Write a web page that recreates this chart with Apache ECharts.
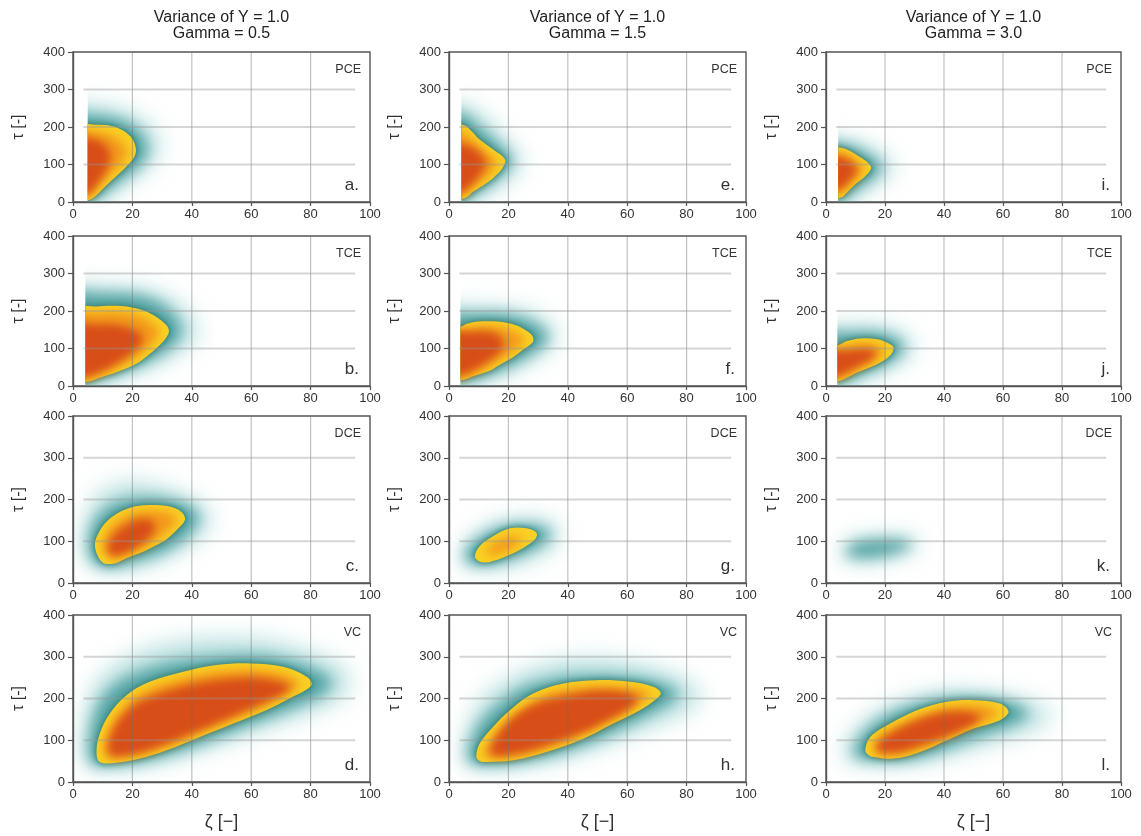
<!DOCTYPE html>
<html><head><meta charset="utf-8">
<script src="https://cdn.jsdelivr.net/npm/echarts/dist/echarts.min.js"></script>
<style>html,body{margin:0;padding:0;background:#fff}#c{width:1141px;height:836px}</style>
</head><body><div id="c"></div><script>
// ---------- text / categories ----------
const columnTitles = ['Variance of Y = 1.0\nGamma = 0.5', 'Variance of Y = 1.0\nGamma = 1.5', 'Variance of Y = 1.0\nGamma = 3.0'];
const rowCodes = ['PCE', 'TCE', 'DCE', 'VC'];
const panelLetters = ['a.', 'b.', 'c.', 'd.', 'e.', 'f.', 'g.', 'h.', 'i.', 'j.', 'k.', 'l.'];
const xName = 'ζ [−]';
const yName = 'τ [-]';
const xTicks = [0, 20, 40, 60, 80, 100];
const yTicks = [0, 100, 200, 300, 400];
const xGridLines = [20, 40, 60, 80];
const yGridLines = [100, 200, 300];
// left edge where the density is cut (x value), null = not cut
const cutEdges = [4.8, 4.0, null, null, 4.0, 3.7, null, null, 3.95, 3.7, null, null];

// ---------- density contours [ζ, τ] ----------
// a. PCE, gamma 0.5
const aHalo = [[-4,2],[-4,250],[10,256],[18,240],[24,214],[28,180],[29,140],[27,110],[23,80],[18,50],[13,20],[9,2]];
const aTeal = [[-4,4],[-4,228],[7,232],[13,226],[19,210],[23,183],[25,150],[24.5,120],[21.5,90],[16.5,60],[11.5,30],[8,8],[6,2]];
const aYellow = [[-4,5],[-4,204],[8,206],[13,203],[17,190],[20,168],[21.2,140],[20.5,118],[18,95],[14,65],[10,35],[7,12],[5,5]];
const aOrange = [[-4,12],[-4,188],[8,188],[12,182],[15,168],[17.5,150],[18.3,135],[17.5,115],[15,92],[11,62],[7.5,34],[5.5,16],[4.5,12]];
const aRed = [[-4,20],[-4,168],[6,170],[9.5,160],[12,142],[12.5,115],[11,82],[8.5,52],[6.5,30],[5,22]];
// b. TCE, gamma 0.5
const bHalo = [[-4,3],[-4,258],[12,264],[22,260],[30,244],[36,216],[40,180],[42,145],[40,115],[35,90],[29,62],[21,38],[13,18],[8,5]];
const bTeal = [[-4,8],[-4,240],[10,247],[18,246],[25,236],[31,213],[34.5,185],[36.5,150],[35.5,125],[32.5,100],[27.5,75],[21.5,52],[15,32],[8,15],[5,8]];
const bYellow = [[-4,10],[-4,205],[8,212],[13,214],[19,211],[24,201],[28,185],[31.5,162],[32.3,145],[31,125],[28.5,104],[25,80],[21,58],[15,38],[9,22],[5,12]];
const bOrange = [[-4,16],[-4,190],[8,197],[13,198],[19,195],[23,186],[26,171],[28.5,155],[29,143],[28,125],[25.5,105],[22,82],[18,62],[13,44],[8.5,29],[5,20]];
const bRed = [[-4,22],[-4,160],[8,165],[14,164],[18.5,157],[22,144],[23.5,128],[22.5,108],[19.5,86],[15.5,64],[11,44],[7,30],[4.5,24]];
// c. DCE, gamma 0.5
const cHalo = [[4,80],[5,50],[8.5,38],[16,33],[26,47],[35,76],[42,105],[45.5,140],[46,165],[42.5,192],[35,215],[25,238],[15,236],[8.5,210],[5,165],[4,120]];
const cTeal = [[5.2,85],[6.2,56],[9.2,41],[15,39],[22,53],[30,73],[36.5,100],[40.5,130],[42.5,155],[40.5,177],[35.5,194],[28,203],[20,201],[13,186],[8.2,158],[5.7,125]];
const cYellow = [[7.4,95],[8,70],[10.2,48],[14,47],[18.1,60],[23,73],[27,87],[31.5,105],[34.9,127],[37.7,151],[36.8,168],[34,180],[29.3,186],[24,186],[19.5,181],[14.7,166],[11,145],[8.6,120]];
const cOrange = [[10,95],[10.5,74],[12.5,60],[15,59],[18.5,70],[23,83],[27,97],[30,113],[33,131],[34.8,150],[34,162],[31.5,170],[28.3,173],[24,173],[20,168],[16.5,155],[13,137],[11,117]];
const cRed = [[12,72],[14,66],[17.5,71],[21,84],[24.5,101],[27,121],[27.5,142],[25.5,152],[22,152],[18.5,141],[14.5,121],[12.3,98]];
// d. VC, gamma 0.5
const dHalo = [[3.5,60],[4.5,42],[10,34],[22,40],[35,60],[50,94],[65,131],[79,165],[90,200],[93,240],[90,278],[80,310],[67,336],[52,345],[36,336],[22,310],[12.5,270],[6.5,218],[4,140]];
const dTeal = [[5.2,70],[6.2,45],[10,39],[18,43],[28,57],[40,83],[52,116],[64,149],[75.5,181],[84,210],[87,240],[83,264],[74.5,288],[62,302],[48,299],[34,287],[22,262],[13.3,228],[8.2,180],[5.7,120]];
const dYellow = [[7.9,72],[9,48],[14.6,46],[22.5,56],[31.5,76],[42.7,108],[54,140],[65,172],[74,204],[80.3,232],[78.7,252],[70.8,276],[59.6,284],[48.3,280],[37.1,264],[25.8,240],[18,208],[12.4,164],[9,116]];
const dOrange = [[10.3,72],[11.3,58],[15,56],[22,66],[31,86],[42,117],[53,149],[63.5,180],[71.5,210],[76.5,232],[75,244],[69,262],[59.5,269],[48.5,265],[37.8,250],[27,227],[19.8,198],[14.8,160],[11.5,116]];
const dRed = [[12.5,66],[15.5,62],[25.5,76],[42,122],[58.5,172],[70.5,210],[73,226],[69.5,240],[59,250],[43,238],[29,212],[19.5,178],[14,132],[12,92]];
// e. PCE, gamma 1.5
const eHalo = [[-4,2],[-4,258],[7,254],[11,232],[15.5,195],[21,150],[24,115],[23.5,90],[20,60],[15,35],[9.5,10],[7,2]];
const eTeal = [[-4,5],[-4,236],[5.5,233],[8,216],[12,188],[17,153],[21,118],[20.5,95],[17.5,70],[13.5,45],[9,22],[6,5]];
const eYellow = [[-4,8],[-4,206],[5,205],[7.1,193],[10.4,166],[14.9,140],[18.9,113],[17.8,88],[15,65],[12.7,51],[8.2,28],[5.4,11]];
const eOrange = [[-4,14],[-4,190],[4.8,188],[6.8,174],[9.6,152],[13,130],[16,110],[15.2,90],[12.8,68],[10.3,53],[6.8,34],[5,19]];
const eRed = [[-4,24],[-4,158],[5.8,152],[9,140],[11.6,120],[12.4,102],[11,80],[8.8,56],[6.3,37],[4.5,27]];
// f. TCE, gamma 1.5
const fHalo = [[-4,8],[-4,202],[10,209],[20,205],[27.5,194],[33,172],[36,140],[35.5,115],[31.5,88],[26,60],[19,35],[11.5,15],[6,8]];
const fTeal = [[-4,12],[-4,184],[8,193],[16,194],[23,186],[28.5,170],[32.5,145],[33,120],[29.5,95],[24.5,70],[18.5,45],[12,25],[6,12]];
const fYellow = [[-4,15],[-4,150],[4,158],[6,166],[10,172],[16,172],[21,166],[25,153],[28,135],[28.3,118],[25.5,100],[21.4,76],[17,56],[13.5,40],[8,26],[5,17]];
const fOrange = [[-4,22],[-4,140],[5,150],[10,158],[16,158],[19.8,152],[23,141],[25.2,128],[25.3,117],[23,102],[19.5,82],[15.5,62],[12,47],[7.5,33],[5,24]];
const fRed = [[-4,27],[-4,136],[8,145],[14.5,143],[18,125],[18.3,105],[16,83],[12,60],[7.8,40],[5,30]];
// g. DCE, gamma 1.5
const gHalo = [[4,56],[5.5,44],[11,38],[20,44],[28,60],[34,81],[36.5,108],[36.5,134],[32,149],[24,152],[15,142],[9.5,118],[5.5,90]];
const gTeal = [[5.3,60],[7.2,47],[11,43],[17,49],[23,63],[29.5,85],[33.5,105],[34,124],[29.5,137],[22,139],[15,127],[10.2,107],[6.3,85]];
const gYellow = [[8.7,64],[10,52],[12.6,49],[16,55],[19.3,64],[25,84],[28.9,104],[29.5,120],[26.1,131],[20.5,131],[14.8,112],[10.3,88]];
const gOrange = [[12.5,72],[15,68],[18,74],[21.5,84],[24,98],[24,108],[21.5,112],[17.5,104],[14,89]];
const gRed = [];
// h. VC, gamma 1.5
const hHalo = [[5,50],[6.5,40],[12,36],[24,40],[38,58],[52,89],[66,128],[78.5,164],[85,200],[83,228],[75,258],[62,284],[48,295],[34,284],[22.5,254],[12.5,208],[7.5,150],[5.5,100]];
const hTeal = [[6.2,55],[7.7,45],[12,41],[22,45],[34,63],[47,93],[59,131],[68.5,165],[75.5,195],[76.5,218],[71.5,237],[62,250],[48,254],[35,246],[24.2,223],[16.3,184],[10.3,140],[7.2,95]];
const hYellow = [[9.2,60],[10.5,50],[12.6,48],[21.6,52],[32.8,72],[44.1,100],[55.3,140],[64.3,172],[70,200],[71.3,214],[68.8,228],[61,240],[49.7,244],[38.5,236],[28.3,212],[20.5,172],[14.8,132],[10.3,92]];
const hOrange = [[11.5,62],[13.2,58],[21.5,61],[32.3,81],[43,110],[54,148],[62,178],[66.8,200],[67.8,211],[66,218],[60,226],[49.7,229],[39.5,222],[30.3,201],[23,165],[17.3,128],[13.2,92]];
const hRed = [[14.5,64],[22,67],[32.5,87],[44,116],[54,150],[61.5,181],[63.5,200],[60,213],[50,218],[40,207],[30,189],[22,157],[17,120],[14.2,83]];
// i. PCE, gamma 3.0
const iHalo = [[-4,3],[-4,162],[8,161],[12.5,153],[17,135],[21.5,112],[23,95],[20.5,70],[16,45],[11.5,22],[8,4]];
const iTeal = [[-4,5],[-4,156],[6,155],[10,146],[14,129],[17.5,110],[19,95],[17.5,75],[13.5,50],[9.5,28],[7,8]];
const iYellow = [[-4,8],[-4,148],[5,145],[8,137],[11.5,120],[14.5,103],[15.3,90],[13.5,70],[10,48],[7,25],[5,12]];
const iOrange = [[-4,16],[-4,134],[5,131],[7.8,122],[10.5,108],[12.5,95],[12.8,87],[11.3,70],[8.5,51],[6,32],[4.5,20]];
const iRed = [[-4,30],[-4,124],[5.3,120],[8.3,108],[10.2,94],[9.8,75],[7.5,53],[5.3,37]];
// j. TCE, gamma 3.0
const jHalo = [[-4,5],[-4,148],[8,160],[17,160],[23.5,150],[28,128],[29.5,105],[28,78],[22,50],[14.5,25],[8,8]];
const jTeal = [[-4,8],[-4,132],[8,143],[15,144],[20.5,137],[25,121],[26.5,102],[24.5,80],[19.5,55],[12.5,32],[7,12]];
const jYellow = [[-4,12],[-4,100],[4,108],[7.1,120],[11.6,127],[17.3,125],[21,115],[22.9,103],[21.8,82],[17.3,58],[10.5,36],[6,18],[4,13]];
const jOrange = [[-4,20],[-4,92],[5,100],[8,108],[12,112],[16,111],[18.7,104],[19.8,97],[19,84],[15.5,65],[10,44],[6,26],[4,21]];
const jRed = [[-4,24],[-4,88],[8,96],[13.5,99],[16.8,91],[16,74],[11.5,55],[6,32],[4,26]];
// k. DCE, gamma 3.0
const kHalo = [[5,66],[7.5,56],[13,53],[20,58],[27.5,73],[31.5,90],[30.5,105],[24,111],[14,109],[7.5,99],[5,82]];
const kTeal = [[7,68],[12,60],[19,64],[25,76],[29,90],[27,101],[18,104],[11,98],[7.5,84]];
const kYellow = [];
const kOrange = [];
const kRed = [];
// l. VC, gamma 3.0
const lHalo = [[5.5,65],[8.5,52],[16,46],[28,47],[40,62],[52,86],[63.5,111],[73,136],[76.5,162],[72.5,184],[63.5,202],[50,217],[38,213],[26.5,195],[16.5,163],[9.5,120]];
const lTeal = [[9.3,65],[11.3,56],[17,51],[26,51],[36,67],[46,93],[56,119],[64.5,141],[68.5,162],[65.5,184],[58,198],[48,203],[37,198],[26.3,177],[17.3,145],[11.3,105]];
const lYellow = [[13.3,76],[14.5,64],[16.1,60],[22.9,56],[31.9,72],[41,100],[50,128],[59,148],[61.9,168],[59,188],[50,196],[41,192],[30.8,172],[21.8,140],[15,108]];
const lOrange = [[15.8,77],[17.2,68],[23,66],[31.5,81],[40,107],[48.5,133],[56,151],[58.3,166],[56,178],[50,184],[42,180],[32.8,161],[24,134],[17.6,106]];
const lRed = [[17.5,74],[24,71],[31.5,86],[41.5,111],[49,135],[52.5,154],[49,166],[42,168],[34.5,157],[26.5,134],[20.5,110],[17.5,90]];

const panelContours = [
  [aHalo,aTeal,aYellow,aOrange,aRed],[bHalo,bTeal,bYellow,bOrange,bRed],[cHalo,cTeal,cYellow,cOrange,cRed],[dHalo,dTeal,dYellow,dOrange,dRed],
  [eHalo,eTeal,eYellow,eOrange,eRed],[fHalo,fTeal,fYellow,fOrange,fRed],[gHalo,gTeal,gYellow,gOrange,gRed],[hHalo,hTeal,hYellow,hOrange,hRed],
  [iHalo,iTeal,iYellow,iOrange,iRed],[jHalo,jTeal,jYellow,jOrange,jRed],[kHalo,kTeal,kYellow,kOrange,kRed],[lHalo,lTeal,lYellow,lOrange,lRed]
];

// ---------- layout / style ----------
const colLeft = [73, 449, 826], colWidth = [297, 297, 295];
const rowTop = [52, 236, 416, 615], rowHeight = [150, 150, 167, 167];
const FONT = 'Liberation Sans, Arial, Helvetica, sans-serif';
const OFF = 4000; // draw shape off-canvas, keep only its blurred shadow

// layer styles: halo, teal, yellow, orange, red
const layerStyles = [
  {color: 'rgba(130,198,198,0.55)', blur: 22, soft: true},
  {color: 'rgba(56,148,148,0.78)', blur: 14, soft: true},
  {color: '#f9d024', blur: 6, shadow: '#187272', soft: false},
  {color: '#f39a1c', blur: 10, soft: true},
  {color: '#d84e18', blur: 9, soft: true}
];

function makeRender(idx) {
  return function (params, api) {
    const blobs = [];
    panelContours[idx].forEach(function (pts, li) {
      if (!pts || !pts.length) return;
      const s = layerStyles[li];
      if (s.soft) {
        blobs.push({
          type: 'polygon', z2: li + 1,
          shape: {points: pts.map(function (p) { const q = api.coord(p); return [q[0] + OFF, q[1]]; }), smooth: 0.35},
          style: {fill: '#000', shadowBlur: s.blur, shadowColor: s.color, shadowOffsetX: -OFF, shadowOffsetY: 0}
        });
      } else {
        blobs.push({
          type: 'polygon', z2: li + 1,
          shape: {points: pts.map(function (p) { return api.coord(p); }), smooth: 0.35},
          style: {fill: s.color, shadowBlur: s.blur, shadowColor: s.shadow}
        });
      }
    });
    const cut = cutEdges[idx];
    const tl = api.coord([cut != null ? cut : 0, 400]), br = api.coord([100, 0]);
    const children = [{
      type: 'group',
      clipPath: {type: 'rect', shape: {x: tl[0] + 0.5, y: tl[1], width: br[0] - tl[0] - 0.5, height: br[1] - tl[1]}},
      children: blobs
    }];
    xGridLines.forEach(function (g) {
      const p0 = api.coord([g, 0]), p1 = api.coord([g, 400]);
      children.push({type: 'line', z2: 30, shape: {x1: p0[0], y1: p0[1], x2: p1[0], y2: p1[1]}, style: {stroke: 'rgba(110,110,110,0.42)', lineWidth: 1.2}});
    });
    yGridLines.forEach(function (g) {
      const p0 = api.coord([3.5, g]), p1 = api.coord([95, g]);
      children.push({type: 'line', z2: 30, shape: {x1: p0[0], y1: p0[1], x2: p1[0], y2: p1[1]}, style: {stroke: 'rgba(150,150,150,0.4)', lineWidth: 1.8}});
    });
    return {type: 'group', children: children};
  };
}

const grids = [], xAxes = [], yAxes = [], series = [], graphics = [];
for (let c = 0; c < 3; c++) {
  for (let r = 0; r < 4; r++) {
    const idx = c * 4 + r;
    grids.push({left: colLeft[c], top: rowTop[r], width: colWidth[c], height: rowHeight[r],
      show: true, borderColor: '#555', borderWidth: 1.4, backgroundColor: 'transparent'});
    xAxes.push({type: 'value', gridIndex: idx, min: xTicks[0], max: xTicks[xTicks.length - 1], interval: xTicks[1] - xTicks[0],
      name: r === 3 ? xName : '', nameLocation: 'middle', nameGap: 31,
      nameTextStyle: {fontSize: 18, color: '#333', fontFamily: FONT},
      axisLine: {show: true, onZero: false, lineStyle: {color: '#555', width: 1.4}},
      axisTick: {show: true, length: 4, lineStyle: {color: '#555', width: 1.2}},
      axisLabel: {fontSize: 13, color: '#333', margin: 6, fontFamily: FONT},
      splitLine: {show: false}});
    yAxes.push({type: 'value', gridIndex: idx, min: yTicks[0], max: yTicks[yTicks.length - 1], interval: yTicks[1] - yTicks[0],
      name: yName, nameLocation: 'middle', nameRotate: 90, nameGap: 46,
      nameTextStyle: {fontSize: 16, color: '#333', fontFamily: FONT},
      axisLine: {show: true, onZero: false, lineStyle: {color: '#555', width: 1.4}},
      axisTick: {show: true, length: 5, lineStyle: {color: '#555', width: 1.2}},
      axisLabel: {fontSize: 13, color: '#333', margin: 8, fontFamily: FONT},
      splitLine: {show: false}});
    series.push({type: 'custom', xAxisIndex: idx, yAxisIndex: idx, clip: true, silent: true,
      data: [[0, 0]], renderItem: makeRender(idx)});
    const right = colLeft[c] + colWidth[c];
    graphics.push({type: 'text', x: right - 9, y: rowTop[r] + 18, z: 100,
      style: {text: rowCodes[r], fontSize: 12.5, fill: '#333', fontFamily: FONT, textAlign: 'right', textVerticalAlign: 'middle'}});
    graphics.push({type: 'text', x: right - 11, y: rowTop[r] + rowHeight[r] - 8, z: 100,
      style: {text: panelLetters[idx], fontSize: 17, fill: '#333', fontFamily: FONT, textAlign: 'right', textVerticalAlign: 'bottom'}});
  }
  graphics.push({type: 'text', x: colLeft[c] + colWidth[c] / 2, y: 9, z: 100,
    style: {text: columnTitles[c], fontSize: 16, lineHeight: 16.5, fill: '#222', fontFamily: FONT, textAlign: 'center', textVerticalAlign: 'top'}});
}

const chart = echarts.init(document.getElementById('c'), null, {renderer: 'canvas'});
chart.setOption({
  animation: false,
  backgroundColor: '#fff',
  grid: grids, xAxis: xAxes, yAxis: yAxes, series: series,
  graphic: graphics
});
</script></body></html>
